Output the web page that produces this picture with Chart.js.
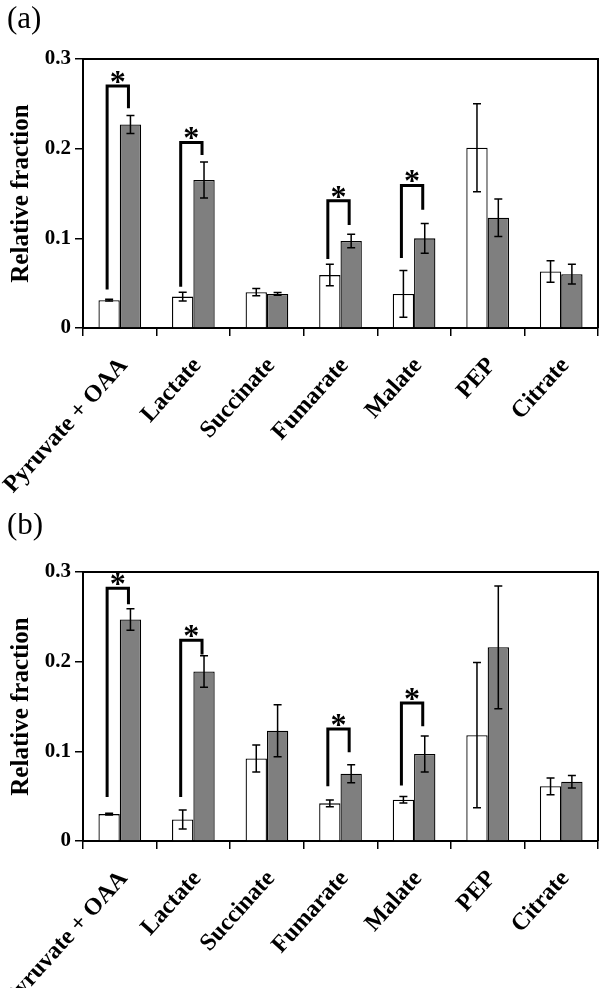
<!DOCTYPE html>
<html>
<head>
<meta charset="utf-8">
<script src="https://cdn.jsdelivr.net/npm/chart.js@4.4.0/dist/chart.umd.min.js"></script>
<style>
  html, body { margin: 0; padding: 0; background: #fff; }
  canvas { display: block; }
</style>
</head>
<body>
<canvas id="chartA" width="600" height="513"></canvas>
<canvas id="chartB" width="600" height="475"></canvas>
<script>
const categories = ["Pyruvate + OAA", "Lactate", "Succinate", "Fumarate", "Malate", "PEP", "Citrate"];
const yTicks = [0, 0.1, 0.2, 0.3];

// panel (a)
const whiteA = [0.031, 0.035, 0.040, 0.059, 0.038, 0.201, 0.063];
const whiteErrA = [0.001, 0.005, 0.004, 0.012, 0.026, 0.049, 0.012];
const grayA = [0.227, 0.165, 0.038, 0.097, 0.100, 0.123, 0.060];
const grayErrA = [0.010, 0.020, 0.0015, 0.0075, 0.0165, 0.021, 0.011];
// significance brackets: [category, left foot, top, right foot]
const bracketsA = [[0, 0.043, 0.270, 0.245], [1, 0.046, 0.207, 0.193], [3, 0.077, 0.142, 0.115], [4, 0.078, 0.159, 0.132]];

// panel (b)
const whiteB = [0.030, 0.024, 0.092, 0.042, 0.046, 0.118, 0.061];
const whiteErrB = [0.001, 0.0105, 0.015, 0.0037, 0.0037, 0.081, 0.0093];
const grayB = [0.247, 0.189, 0.123, 0.075, 0.097, 0.216, 0.066];
const grayErrB = [0.012, 0.0175, 0.029, 0.010, 0.020, 0.0685, 0.007];
const bracketsB = [[0, 0.049, 0.282, 0.264], [1, 0.049, 0.224, 0.208], [3, 0.061, 0.125, 0.099], [4, 0.062, 0.154, 0.128]];

const serif = '"Liberation Serif", "Times New Roman", serif';

const extrasPlugin = {
  id: "extras",
  afterDatasetsDraw(chart, args, opts) {
    const ctx = chart.ctx;
    const y = chart.scales.y;
    const area = chart.chartArea;
    ctx.save();
    ctx.strokeStyle = "#000";

    // error bars
    ctx.lineWidth = 1.5;
    opts.errors.forEach((errs, di) => {
      const meta = chart.getDatasetMeta(di);
      meta.data.forEach((bar, i) => {
        const v = chart.data.datasets[di].data[i];
        const top = y.getPixelForValue(v + errs[i]);
        const bot = y.getPixelForValue(v - errs[i]);
        ctx.beginPath();
        ctx.moveTo(bar.x, top); ctx.lineTo(bar.x, bot);
        ctx.moveTo(bar.x - 4, top); ctx.lineTo(bar.x + 4, top);
        ctx.moveTo(bar.x - 4, bot); ctx.lineTo(bar.x + 4, bot);
        ctx.stroke();
      });
    });

    // brackets with asterisks
    const m0 = chart.getDatasetMeta(0), m1 = chart.getDatasetMeta(1);
    ctx.lineWidth = 3;
    ctx.fillStyle = "#000";
    ctx.font = "bold 32px " + serif;
    ctx.textAlign = "center";
    ctx.textBaseline = "alphabetic";
    opts.brackets.forEach(b => {
      const xl = m0.data[b[0]].x - 2;
      const xr = m1.data[b[0]].x - 2;
      const yt = y.getPixelForValue(b[2]);
      ctx.beginPath();
      ctx.moveTo(xl, y.getPixelForValue(b[1]));
      ctx.lineTo(xl, yt);
      ctx.lineTo(xr, yt);
      ctx.lineTo(xr, y.getPixelForValue(b[3]));
      ctx.stroke();
      ctx.fillText("*", (xl + xr) / 2, yt + 6);
    });

    // frame top and right
    ctx.lineWidth = 2;
    ctx.beginPath();
    ctx.moveTo(area.left, area.top);
    ctx.lineTo(area.right, area.top);
    ctx.lineTo(area.right, area.bottom);
    ctx.stroke();

    // panel label
    ctx.font = "31px " + serif;
    ctx.textAlign = "left";
    ctx.fillText(opts.label, 7, opts.labelY);
    ctx.restore();
  }
};

function makeChart(id, white, gray, whiteErr, grayErr, brackets, label, labelY, canvasH) {
  return new Chart(document.getElementById(id), {
    type: "bar",
    data: {
      labels: categories,
      datasets: [
        { label: "Series 1", data: white, backgroundColor: "#ffffff", borderColor: "#000", borderWidth: 1.3 },
        { label: "Series 2", data: gray, backgroundColor: "#7f7f7f", borderColor: "#000", borderWidth: 1.3 }
      ]
    },
    options: {
      responsive: false,
      animation: false,
      devicePixelRatio: 1,
      layout: { padding: { top: 59, right: 2, left: 0, bottom: 0 } },
      datasets: { bar: { categoryPercentage: 0.58, barPercentage: 1.0 } },
      plugins: {
        legend: { display: false },
        tooltip: { enabled: false },
        extras: { errors: [whiteErr, grayErr], brackets: brackets, label: label, labelY: labelY }
      },
      scales: {
        x: {
          afterFit: s => { s.height = canvasH - 328; s.paddingLeft = 0; s.paddingRight = 0; },
          grid: { drawOnChartArea: false, drawTicks: true, tickLength: 8, color: "#000", lineWidth: 1.5, offset: true },
          border: { display: true, color: "#000", width: 2 },
          ticks: {
            autoSkip: false, minRotation: 48, maxRotation: 48, padding: 16, labelOffset: 4,
            color: "#000", font: { family: serif, size: 24, weight: "bold" }
          }
        },
        y: {
          min: 0, max: 0.3,
          afterFit: s => { s.width = 83; },
          afterBuildTicks: s => { s.ticks = yTicks.map(v => ({ value: v })); },
          grid: { drawOnChartArea: false, drawTicks: true, tickLength: 8, color: "#000", lineWidth: 1.5 },
          border: { display: true, color: "#000", width: 2 },
          ticks: {
            padding: 4, color: "#000",
            font: { family: serif, size: 21, weight: "bold" },
            callback: v => String(v)
          },
          title: {
            display: true, text: "Relative fraction", color: "#000",
            font: { family: serif, size: 25, weight: "bold" },
            padding: { top: 7, bottom: 0 }
          }
        }
      }
    },
    plugins: [extrasPlugin]
  });
}

makeChart("chartA", whiteA, grayA, whiteErrA, grayErrA, bracketsA, "(a)", 28, 513);
makeChart("chartB", whiteB, grayB, whiteErrB, grayErrB, bracketsB, "(b)", 21, 475);
</script>
</body>
</html>
